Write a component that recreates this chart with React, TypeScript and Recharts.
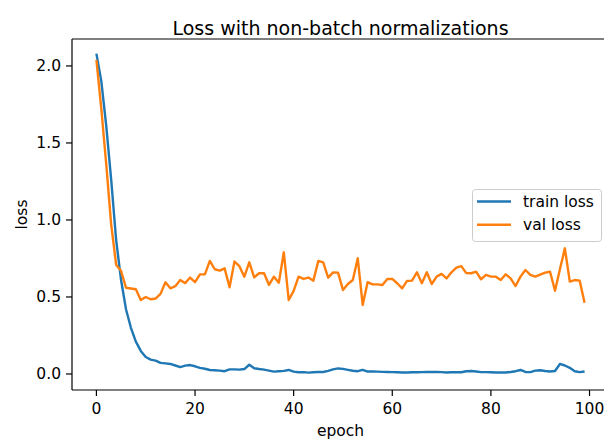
import React from 'react';
import { LineChart, Line, XAxis, YAxis, ReferenceLine, Legend } from 'recharts';

const trainLoss: number[] = [
  2.08, 1.90, 1.61, 1.26, 0.87, 0.61, 0.42, 0.30, 0.21, 0.15,
  0.11, 0.093, 0.087, 0.072, 0.069, 0.065, 0.055, 0.045, 0.054, 0.058,
  0.05, 0.04, 0.034, 0.026, 0.024, 0.022, 0.018, 0.030, 0.030, 0.028,
  0.032, 0.060, 0.037, 0.032, 0.028, 0.022, 0.015, 0.018, 0.020, 0.026,
  0.015, 0.011, 0.012, 0.009, 0.011, 0.013, 0.013, 0.020, 0.030, 0.036,
  0.033, 0.027, 0.021, 0.018, 0.027, 0.016, 0.016, 0.015, 0.014, 0.013,
  0.012, 0.011, 0.010, 0.010, 0.011, 0.011, 0.012, 0.013, 0.013, 0.014,
  0.012, 0.010, 0.011, 0.012, 0.011, 0.018, 0.019, 0.016, 0.012, 0.012,
  0.011, 0.010, 0.010, 0.010, 0.013, 0.018, 0.026, 0.013, 0.012, 0.022,
  0.024, 0.019, 0.016, 0.019, 0.065, 0.055, 0.040, 0.018, 0.012, 0.016,
];

const valLoss: number[] = [
  2.04, 1.72, 1.36, 0.97, 0.71, 0.67, 0.56, 0.555, 0.55, 0.48,
  0.50, 0.485, 0.49, 0.52, 0.595, 0.556, 0.57, 0.61, 0.59, 0.626,
  0.596, 0.647, 0.647, 0.734, 0.68, 0.671, 0.686, 0.563, 0.73, 0.70,
  0.632, 0.725, 0.628, 0.654, 0.654, 0.578, 0.632, 0.593, 0.79, 0.48,
  0.54, 0.632, 0.617, 0.626, 0.606, 0.734, 0.725, 0.626, 0.66, 0.658,
  0.545, 0.584, 0.61, 0.751, 0.448, 0.596, 0.582, 0.582, 0.578, 0.617,
  0.617, 0.589, 0.556, 0.604, 0.606, 0.66, 0.589, 0.66, 0.584, 0.632,
  0.65, 0.62, 0.66, 0.69, 0.70, 0.655, 0.654, 0.664, 0.615, 0.643,
  0.632, 0.632, 0.61, 0.647, 0.621, 0.571, 0.632, 0.675, 0.643, 0.632,
  0.645, 0.658, 0.664, 0.54, 0.68, 0.816, 0.60, 0.61, 0.606, 0.463,
];

const xTicks: number[] = [0, 20, 40, 60, 80, 100];
const yTicks: number[] = [0, 0.5, 1.0, 1.5, 2.0];

const X_MIN = -4.95;
const X_MAX = 103.95;
const Y_MIN = -0.104;
const Y_MAX = 2.175;

const FONT = '"DejaVu Sans", sans-serif';

const data = trainLoss.map((t, i) => ({ epoch: i, train: t, val: valLoss[i] }));

const renderLegend = (props: any) => {
  const items: any[] = props.payload || [];
  return (
    <svg width={131} height={53} style={{ display: 'block' }}>
      <rect x={0.5} y={0.5} width={129} height={52} rx={3} ry={3} fill="#ffffff" fillOpacity={0.8} stroke="#cccccc" strokeWidth={1} />
      {items.map((it, i) => {
        const cy = 12.5 + i * 23.3;
        return (
          <g key={i}>
            <line x1={5} x2={39} y1={cy} y2={cy} stroke={it.color} strokeWidth={2.4} />
            <text x={51} y={cy + 5.5} fontSize={15.5} fontFamily={FONT} fill="#000">{it.value}</text>
          </g>
        );
      })}
    </svg>
  );
};

export default function App() {
  return (
    <div style={{ position: 'absolute', left: 0, top: 0, width: 604, height: 441, overflow: 'hidden', background: '#fff' }}>
      <LineChart
        width={612}
        height={441}
        data={data}
        margin={{ top: 39, right: 3, left: 12, bottom: 21 }}
        style={{ fontFamily: FONT }}
      >
        <XAxis
          dataKey="epoch"
          type="number"
          domain={[X_MIN, X_MAX]}
          ticks={xTicks}
          allowDataOverflow
          height={30}
          tickSize={6}
          tickMargin={7}
          stroke="#000"
          strokeWidth={1.2}
          tick={{ fill: '#000', fontSize: 15.5, fontFamily: FONT }}
          interval={0}
        />
        <YAxis
          type="number"
          domain={[Y_MIN, Y_MAX]}
          ticks={yTicks}
          allowDataOverflow
          width={60}
          tickSize={6}
          tickMargin={5}
          stroke="#000"
          strokeWidth={1.2}
          tick={{ fill: '#000', fontSize: 15.5, fontFamily: FONT }}
          tickFormatter={(v: number) => v.toFixed(1)}
          interval={0}
        />
        <ReferenceLine y={Y_MAX} stroke="#000" strokeWidth={1.2} />
        <ReferenceLine x={X_MAX} stroke="#000" strokeWidth={1.2} />
        <Line
          dataKey="train"
          name="train loss"
          type="linear"
          stroke="#1f77b4"
          strokeWidth={2.4}
          dot={false}
          activeDot={false}
          strokeLinejoin="round"
          isAnimationActive={false}
        />
        <Line
          dataKey="val"
          name="val loss"
          type="linear"
          stroke="#ff7f0e"
          strokeWidth={2.4}
          dot={false}
          activeDot={false}
          strokeLinejoin="round"
          isAnimationActive={false}
        />
        <Legend
          layout="horizontal"
          verticalAlign="middle"
          align="center"
          content={renderLegend}
          wrapperStyle={{ position: 'absolute', left: 472, top: 189, width: 131, height: 53 }}
        />
      </LineChart>
      <svg width={604} height={441} style={{ position: 'absolute', left: 0, top: 0, pointerEvents: 'none' }}>
        <text x={340.5} y={34.5} textAnchor="middle" fontSize={19} fontFamily={FONT} fill="#000">
          Loss with non-batch normalizations
        </text>
        <text x={340.5} y={436} textAnchor="middle" fontSize={15.5} fontFamily={FONT} fill="#000">
          epoch
        </text>
        <text transform="translate(26.5, 214.5) rotate(-90)" textAnchor="middle" fontSize={15.5} fontFamily={FONT} fill="#000">
          loss
        </text>
      </svg>
    </div>
  );
}
